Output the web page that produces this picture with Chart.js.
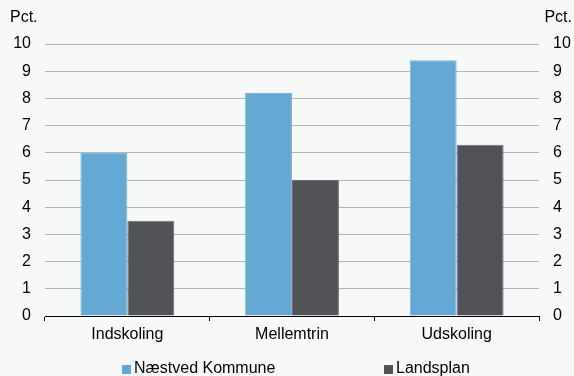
<!DOCTYPE html>
<html>
<head>
<meta charset="utf-8">
<script src="https://cdn.jsdelivr.net/npm/chart.js@4/dist/chart.umd.min.js"></script>
<style>
  html, body { margin: 0; padding: 0; background: #f7f9f9; }
  #wrap { width: 574px; height: 376px; }
</style>
</head>
<body>
<div id="wrap"><canvas id="chart" width="574" height="376"></canvas></div>
<script>
const categories = ['Indskoling', 'Mellemtrin', 'Udskoling'];
const naestvedValues = [6.0, 8.2, 9.4];
const landsplanValues = [3.5, 5.0, 6.3];
const seriesLabels = ['Næstved Kommune', 'Landsplan'];
const yTicks = [0, 1, 2, 3, 4, 5, 6, 7, 8, 9, 10];
const unitLabel = 'Pct.';

const FONT = '"Liberation Sans", Arial, sans-serif';
Chart.defaults.font.family = FONT;
Chart.defaults.font.size = 16;
Chart.defaults.color = '#000';

// legend squares + "Pct." captions drawn on the canvas
const extras = {
  id: 'extras',
  afterDraw(chart) {
    const ctx = chart.ctx;
    ctx.save();
    ctx.font = '16px ' + FONT;
    ctx.fillStyle = '#000';
    ctx.textBaseline = 'middle';
    ctx.textAlign = 'left';
    ctx.fillText(unitLabel, 10, 18);
    ctx.textAlign = 'right';
    ctx.fillText(unitLabel, 572, 18);

    const xs = [122, 384];
    chart.data.datasets.forEach((ds, i) => {
      ctx.fillStyle = ds.backgroundColor;
      ctx.fillRect(xs[i], 365, 9, 9);
      ctx.fillStyle = '#000';
      ctx.textAlign = 'left';
      ctx.fillText(ds.label, xs[i] + 12, 369);
    });
    ctx.restore();
  }
};

const tickCfg = {
  min: 0, max: 10,
  ticks: { stepSize: 1, padding: 14, color: '#000', font: { size: 16 } },
};

new Chart(document.getElementById('chart'), {
  type: 'bar',
  data: {
    labels: categories,
    datasets: [
      { label: seriesLabels[0], data: naestvedValues, backgroundColor: '#63a9d4',
        borderColor: '#7ab6dc', borderWidth: 1, yAxisID: 'y' },
      { label: seriesLabels[1], data: landsplanValues, backgroundColor: '#525358',
        borderColor: '#6b6c70', borderWidth: 1, yAxisID: 'y' },
    ],
  },
  options: {
    responsive: false,
    animation: false,
    layout: { padding: { top: 44, left: 0, right: 0, bottom: 0 } },
    datasets: { bar: { categoryPercentage: 0.57, barPercentage: 1.0 } },
    plugins: {
      legend: { display: false },
      tooltip: { enabled: false },
    },
    scales: {
      x: {
        grid: { drawOnChartArea: false, drawTicks: true, tickLength: 5, color: '#000', offset: true },
        border: { display: true, color: '#000', width: 1 },
        ticks: { padding: 4, color: '#000', font: { size: 16 } },
        afterFit(s) { s.height = 60; },
      },
      y: {
        position: 'left',
        min: tickCfg.min, max: tickCfg.max,
        afterBuildTicks(s) { s.ticks = yTicks.map(v => ({ value: v })); },
        ticks: tickCfg.ticks,
        grid: { color: '#b3b3b3', lineWidth: 1, drawTicks: false },
        border: { display: false },
        afterFit(s) { s.width = 45; },
      },
      y2: {
        position: 'right',
        min: tickCfg.min, max: tickCfg.max,
        afterBuildTicks(s) { s.ticks = yTicks.map(v => ({ value: v })); },
        ticks: tickCfg.ticks,
        grid: { drawOnChartArea: false, drawTicks: false },
        border: { display: false },
        afterFit(s) { s.width = 35; },
      },
    },
  },
  plugins: [extras],
});
</script>
</body>
</html>
